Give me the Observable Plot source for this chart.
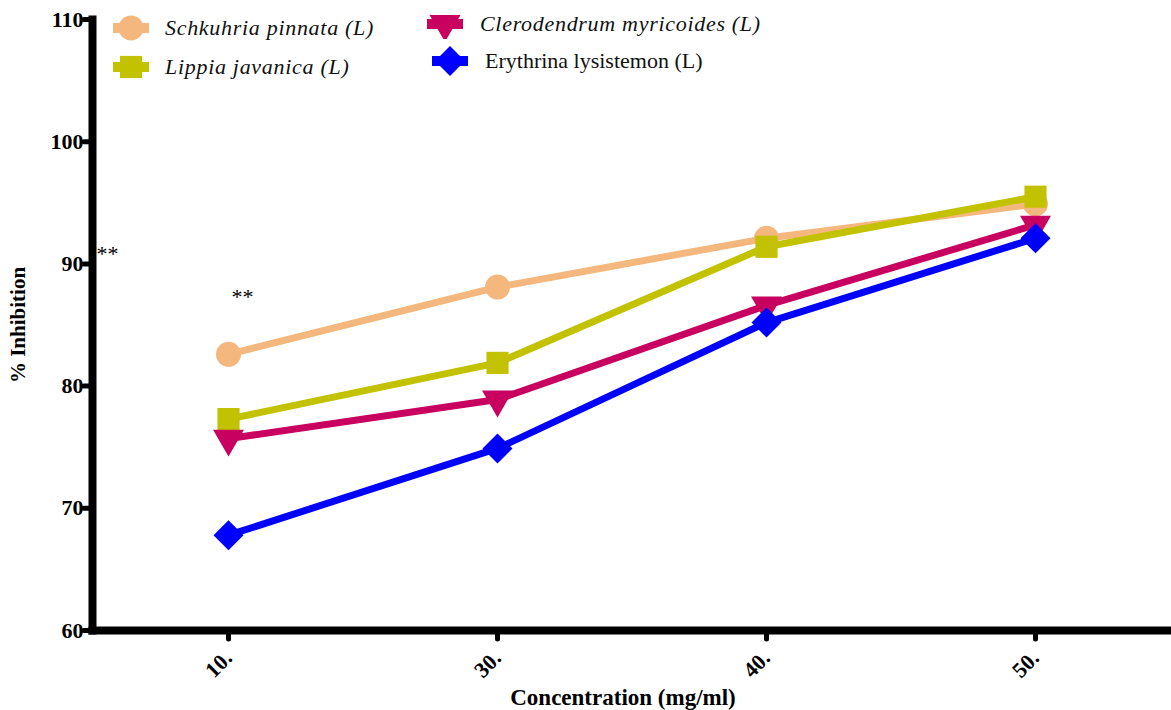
<!DOCTYPE html>
<html><head><meta charset="utf-8">
<script src="https://cdn.jsdelivr.net/npm/d3@7"></script>
<script src="https://cdn.jsdelivr.net/npm/@observablehq/plot@0.6"></script>
<style>
body{margin:0;background:#fff;}
#wrap{position:relative;width:1171px;height:710px;overflow:hidden;}
.leg{position:absolute;height:30px;font-family:"Liberation Serif","Times New Roman",serif;font-size:22px;display:flex;align-items:center;white-space:nowrap;color:#111;}
.leg svg{display:block;}
</style></head><body><div id="wrap"></div>
<script>
const concentrations = ["10.", "30.", "40.", "50."];
const seriesNames = ["Schkuhria pinnata (L)", "Lippia javanica (L)", "Clerodendrum myricoides (L)", "Erythrina lysistemon (L)"];
const seriesColors = ["#F4B77E", "#C2C200", "#C8005F", "#0000FF"];
const seriesSymbols = ["circle", "square", "triangle", "diamond2"];
const seriesRotate = [0, 0, 180, 0];
const seriesItalic = [true, true, true, false];
const schkuhria = [82.6, 88.1, 92.1, 94.9];
const lippia = [77.3, 81.9, 91.4, 95.5];
const clerodendrum = [75.7, 78.9, 86.6, 93.2];
const erythrina = [67.8, 74.9, 85.2, 92.1];
const seriesValues = [schkuhria, lippia, clerodendrum, erythrina];
const yTicks = [60, 70, 80, 90, 100, 110];
const starNotes = ["**", "**"];
const starCategory = ["10.", "10."];
const starValues = [87.3, 90.8];

const serif = "Liberation Serif, Times New Roman, serif";
const symbolRadius = [12.5, 12.5, 11.5, 13.5];

const marks = [];
seriesNames.forEach((name, si) => {
  const d = concentrations.map((c, i) => ({series: name, c, v: seriesValues[si][i]}));
  marks.push(Plot.line(d, {x: "c", y: "v", stroke: seriesColors[si], strokeWidth: 7}));
  marks.push(Plot.dot(d, {x: "c", y: "v", fill: seriesColors[si], stroke: "none", symbol: seriesSymbols[si], rotate: seriesRotate[si], r: symbolRadius[si]}));
});

const chart = Plot.plot({
  width: 1171, height: 710,
  marginTop: 19, marginBottom: 80, marginLeft: 92, marginRight: 0,
  x: {type: "point", domain: concentrations, padding: 0.5},
  y: {domain: [60, 110]},
  style: {fontFamily: serif, background: "#fff"},
  marks: [
    Plot.axisY({ticks: yTicks, tickSize: 8, tickPadding: 1, strokeWidth: 5, strokeLinecap: "round", fontSize: 22, fontWeight: "bold", fill: "#000", label: null}),
    Plot.axisX({tickSize: 9, tickPadding: 15, tickRotate: -45, strokeWidth: 5, strokeLinecap: "round", fontSize: 22, fontWeight: "bold", fill: "#000", label: null}),
    Plot.frame({anchor: "left", strokeWidth: 8, stroke: "#000"}),
    Plot.frame({anchor: "bottom", strokeWidth: 8, stroke: "#000"}),
    ...marks,
    Plot.text([0], {x: () => starCategory[0], y: () => starValues[0], text: () => starNotes[0], dx: 14, fontSize: 22}),
    Plot.text([1], {x: () => starCategory[1], y: () => starValues[1], text: () => starNotes[1], dx: -121, fontSize: 22}),
    Plot.text(["Concentration (mg/ml)"], {frameAnchor: "bottom", lineAnchor: "middle", textAnchor: "middle", dy: 67, dx: -9, fontSize: 23, fontWeight: "bold"}),
    Plot.text(["% Inhibition"], {frameAnchor: "left", textAnchor: "middle", lineAnchor: "middle", dx: -74, rotate: -90, fontSize: 21, fontWeight: "bold"})
  ]
});
// make sure the tick labels use the large bold serif type
chart.querySelectorAll('g[aria-label="y-axis tick label"], g[aria-label="x-axis tick label"]').forEach(g => {
  g.style.fontSize = "22px";
  g.style.fontWeight = "bold";
});
const wrap = document.getElementById("wrap");
wrap.appendChild(chart);

// legend (HTML overlay inside the plot area)
const legendPos = [
  {left: 113, cy: 28, textGap: 16},
  {left: 113, cy: 67, textGap: 16},
  {left: 427, cy: 24, textGap: 17},
  {left: 432, cy: 61, textGap: 17}
];
seriesNames.forEach((name, si) => {
  const p = legendPos[si];
  const div = document.createElement("div");
  div.className = "leg";
  div.style.left = p.left + "px";
  div.style.top = (p.cy - 15) + "px";
  const ns = "http://www.w3.org/2000/svg";
  const svg = document.createElementNS(ns, "svg");
  svg.setAttribute("width", 36); svg.setAttribute("height", 30);
  const line = document.createElementNS(ns, "line");
  line.setAttribute("x1", 0); line.setAttribute("x2", 36);
  line.setAttribute("y1", 15); line.setAttribute("y2", 15);
  line.setAttribute("stroke", seriesColors[si]); line.setAttribute("stroke-width", 10);
  svg.appendChild(line);
  const symMap = {circle: d3.symbolCircle, square: d3.symbolSquare, triangle: d3.symbolTriangle, diamond2: d3.symbolDiamond2};
  const r = symbolRadius[si];
  const path = document.createElementNS(ns, "path");
  path.setAttribute("d", d3.symbol(symMap[seriesSymbols[si]], Math.PI * r * r)());
  path.setAttribute("fill", seriesColors[si]);
  path.setAttribute("transform", `translate(18,15) rotate(${seriesRotate[si]})`);
  svg.appendChild(path);
  div.appendChild(svg);
  const span = document.createElement("span");
  span.textContent = name;
  span.style.marginLeft = p.textGap + "px";
  if (seriesItalic[si]) { span.style.fontStyle = "italic"; span.style.letterSpacing = "0.7px"; }
  div.appendChild(span);
  wrap.appendChild(div);
});
</script>
</body></html>
